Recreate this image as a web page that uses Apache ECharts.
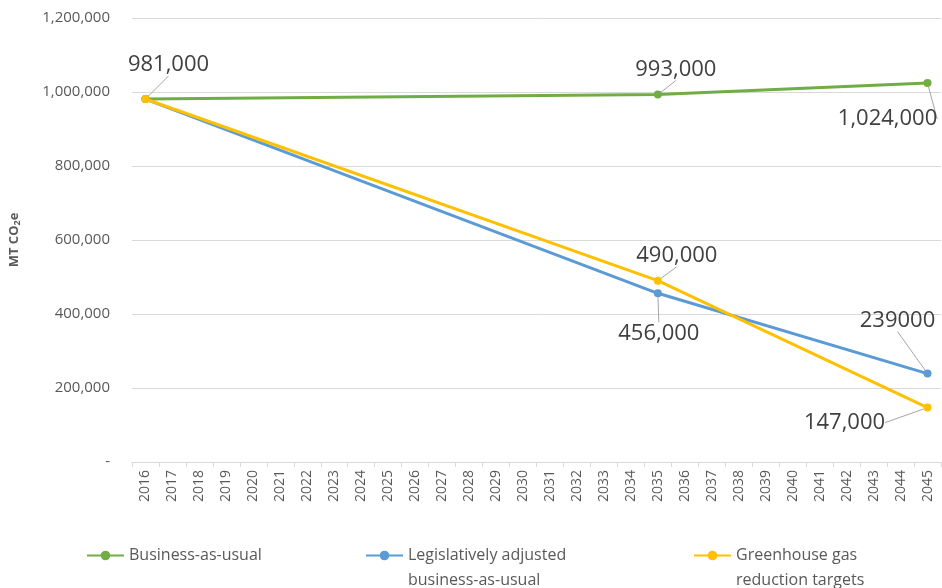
<!DOCTYPE html>
<html>
<head>
<meta charset="utf-8">
<script src="https://cdn.jsdelivr.net/npm/echarts@6/dist/echarts.min.js"></script>
<style>html,body{margin:0;padding:0;background:#fff}#c{width:942px;height:588px}</style>
</head>
<body>
<div id="c"></div>
<script>
// ---- data ----
var years = ['2016','2017','2018','2019','2020','2021','2022','2023','2024','2025',
             '2026','2027','2028','2029','2030','2031','2032','2033','2034','2035',
             '2036','2037','2038','2039','2040','2041','2042','2043','2044','2045'];
var keyYears = ['2016','2035','2045'];
var bauValues = [981000, 993000, 1024000];
var legValues = [981000, 456000, 239000];
var ghgValues = [981000, 490000, 147000];
var bauLabels = ['981,000', '993,000', '1,024,000'];
var legLabels = ['', '456,000', '239000'];
var ghgLabels = ['', '490,000', '147,000'];
var seriesNames = ['Business-as-usual', 'Legislatively adjusted business-as-usual', 'Greenhouse gas reduction targets'];
var legendLines = [['Business-as-usual'], ['Legislatively adjusted', 'business-as-usual'], ['Greenhouse gas', 'reduction targets']];
var yTicks = { min: 0, max: 1200000, interval: 200000 };

// ---- styling / layout ----
var colors = ['#70AD47', '#5B9BD5', '#FFC000'];
var labelOffsets = [
  [[23, -34], [18, -25], [-40, 36]],
  [[0, 0], [1, 40], [-30, -53]],
  [[0, 0], [19, -25], [-83, 15]]
];
var FONT = 'Open Sans';

function buildData(vals, labels) {
  return keyYears.map(function (y, i) {
    var item = { value: [y, vals[i]] };
    if (!labels[i]) item.label = { show: false };
    return item;
  });
}
var allLabels = [bauLabels, legLabels, ghgLabels];
var allValues = [bauValues, legValues, ghgValues];

var series = seriesNames.map(function (name, s) {
  return {
    name: name,
    type: 'line',
    data: buildData(allValues[s], allLabels[s]),
    color: colors[s],
    lineStyle: { width: 3, color: colors[s] },
    symbol: 'circle',
    symbolSize: 8,
    itemStyle: { color: colors[s] },
    z: 2 + s,
    label: {
      show: true,
      position: 'inside',
      fontFamily: FONT,
      fontSize: 22,
      color: '#404040',
      formatter: function (p) { return allLabels[s][p.dataIndex]; }
    },
    labelLine: { show: true, lineStyle: { color: '#A6A6A6', width: 1 } },
    labelLayout: function (p) {
      var o = labelOffsets[s][p.dataIndex];
      return { dx: o[0], dy: o[1] };
    },
    emphasis: { disabled: true },
    animation: false
  };
});

function mkLegend(i, left, top) {
  var lines = legendLines[i];
  // a blank first line keeps the icon level with the first text line
  var txt = lines.length > 1 ? '\u00a0\n' + lines.join('\n') : lines[0];
  return {
    data: [seriesNames[i]],
    left: left,
    top: top,
    padding: 0,
    itemWidth: 37,
    itemHeight: 12,
    formatter: function () { return txt; },
    textStyle: { fontFamily: FONT, fontSize: 16, color: '#595959', lineHeight: 25 }
  };
}

var chart = echarts.init(document.getElementById('c'), null, { renderer: 'canvas' });
chart.setOption({
  animation: false,
  backgroundColor: '#ffffff',
  grid: { left: 131, right: 1, top: 18, bottom: 126, containLabel: false },
  legend: [
    mkLegend(0, 86, 543),
    mkLegend(1, 365, 518),
    mkLegend(2, 693, 518)
  ],
  xAxis: {
    type: 'category',
    data: years,
    boundaryGap: true,
    axisLine: { lineStyle: { color: '#D9D9D9', width: 1 } },
    axisTick: { show: true, length: 5, lineStyle: { color: '#D9D9D9' } },
    axisLabel: { rotate: 90, interval: 0, margin: 8, fontFamily: FONT, fontSize: 14, color: '#595959' },
    splitLine: { show: false }
  },
  yAxis: {
    type: 'value',
    min: yTicks.min, max: yTicks.max, interval: yTicks.interval,
    name: 'MT CO{sub|2}e',
    nameLocation: 'middle',
    nameRotate: 90,
    nameGap: 110,
    nameTextStyle: {
      fontFamily: FONT, fontSize: 13, fontWeight: 'bold', color: '#595959',
      rich: { sub: { fontFamily: FONT, fontSize: 9, fontWeight: 'bold', color: '#595959', padding: [6, 0, 0, 0] } }
    },
    axisLine: { show: false },
    axisTick: { show: false },
    axisLabel: {
      margin: 22, fontFamily: FONT, fontSize: 15, color: '#595959',
      formatter: function (v) { return v === 0 ? '-' : v.toLocaleString('en-US'); }
    },
    splitLine: { lineStyle: { color: '#D9D9D9', width: 1 } }
  },
  series: series
});
</script>
</body>
</html>
